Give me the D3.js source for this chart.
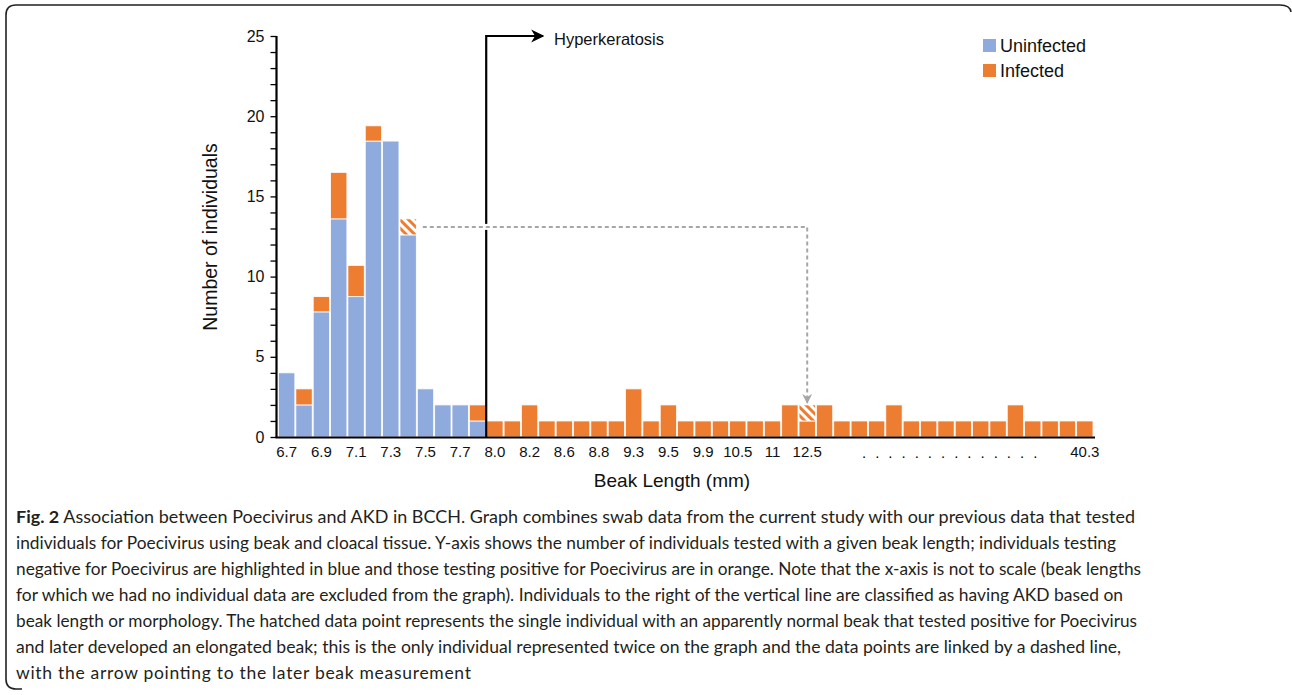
<!DOCTYPE html>
<html>
<head>
<meta charset="utf-8">
<script src="https://cdn.jsdelivr.net/npm/d3@7"></script>
<style>
  html, body { margin: 0; padding: 0; background: #fff; }
  svg { display: block; }
</style>
</head>
<body>
<svg id="chart" width="1292" height="695"></svg>
<script>
// ---------- data ----------
const tickLabels = ["6.7","","6.9","","7.1","","7.3","","7.5","","7.7","",
  "8.0","","8.2","","8.6","","8.8","","9.3","","9.5","","9.9","","10.5","","11","",
  "12.5","","","","","","","","","","","","","","","","40.3"];
const uninfected = [4,2,7.8,13.6,8.75,18.45,18.45,12.6,3,2,2,1,
  0,0,0,0,0,0,0,0,0,0,0,0,0,0,0,0,0,0,0,0,0,0,0,0,0,0,0,0,0,0,0,0,0,0,0];
const infected = [0,1,0.95,2.9,1.95,0.95,0,0,0,0,0,1,
  1,1,2,1,1,1,1,1,3,1,2,1,1,1,1,1,1,2,1,2,1,1,1,2,1,1,1,1,1,1,2,1,1,1,1];
const hatched = [0,0,0,0,0,0,0,1,0,0,0,0,
  0,0,0,0,0,0,0,0,0,0,0,0,0,0,0,0,0,0,1,0,0,0,0,0,0,0,0,0,0,0,0,0,0,0,0];
const yTicks = [0,5,10,15,20,25];
const seriesNames = ["Uninfected","Infected"];
const hyperStartIndex = 12;     // first hyperkeratosis category
const linkFrom = 7, linkTo = 30; // hatched individual measured twice
const captionLines = [
  ["Fig. 2", " Association between Poecivirus and AKD in BCCH. Graph combines swab data from the current study with our previous data that tested"],
  ["", "individuals for Poecivirus using beak and cloacal tissue. Y-axis shows the number of individuals tested with a given beak length; individuals testing"],
  ["", "negative for Poecivirus are highlighted in blue and those testing positive for Poecivirus are in orange. Note that the x-axis is not to scale (beak lengths"],
  ["", "for which we had no individual data are excluded from the graph). Individuals to the right of the vertical line are classified as having AKD based on"],
  ["", "beak length or morphology. The hatched data point represents the single individual with an apparently normal beak that tested positive for Poecivirus"],
  ["", "and later developed an elongated beak; this is the only individual represented twice on the graph and the data points are linked by a dashed line,"],
  ["", "with the arrow pointing to the later beak measurement"]
];
const captionWidths = [1119, 1100, 1125, 1107, 1121, 1105, 455];

// ---------- setup ----------
const BLUE = "#8faadc", ORANGE = "#ed7d31";
const svg = d3.select("#chart");
const FONT = "'Liberation Sans', Arial, Helvetica, sans-serif";
const CAPFONT = "Lato, 'Open Sans', sans-serif";

const defs = svg.append("defs");
const pat = defs.append("pattern").attr("id","hatch").attr("patternUnits","userSpaceOnUse")
  .attr("width",6).attr("height",6).attr("patternTransform","rotate(-45)");
pat.append("rect").attr("width",6).attr("height",6).attr("fill","#fff");
pat.append("rect").attr("width",3).attr("height",6).attr("fill",ORANGE);

const x = d3.scaleBand().domain(d3.range(tickLabels.length)).range([278, 1093.5]).padding(0);
const y = d3.scaleLinear().domain([0,25]).range([437, 36]);

// frame
svg.append("path")
  .attr("d","M 22 689 H 16 Q 6 689 6 679 V 15 Q 6 5 16 5 H 1280 Q 1290 5 1291 12")
  .attr("fill","none").attr("stroke","#222").attr("stroke-width",1.6);

// bars
const data = tickLabels.map((t,i)=>({i, u: uninfected[i], inf: infected[i], h: hatched[i]}));
const g = svg.append("g");
const bw = x.bandwidth();
data.forEach(d => {
  const x0 = x(d.i) + 0.5, w = bw - 1;
  let base = 0;
  const segs = [[d.u, BLUE], [d.inf, ORANGE], [d.h, "url(#hatch)"]];
  segs.forEach(([v, col]) => {
    if (v > 0) {
      g.append("rect").attr("x", x0).attr("width", w)
        .attr("y", y(base+v)).attr("height", y(base) - y(base+v))
        .attr("fill", col).attr("stroke","#fff").attr("stroke-width",0.8);
      base += v;
    }
  });
});

// y axis
const yAxis = d3.axisLeft(y).tickValues(d3.range(0,26,1)).tickSize(6)
  .tickFormat(v => yTicks.includes(v) ? v : "");
const ya = svg.append("g").attr("transform","translate(276.5,0)").call(yAxis);
ya.select(".domain").attr("stroke","#000").attr("stroke-width",2.2).attr("d","M0,36V438");
ya.selectAll(".tick line").attr("stroke","#000").attr("stroke-width",1.3);
ya.selectAll(".tick text").attr("font-family",FONT).attr("font-size",16).attr("fill","#111").attr("x",-12);

// x axis
const xAxis = d3.axisBottom(x).tickSize(0).tickFormat(i => tickLabels[i]);
const xa = svg.append("g").attr("transform","translate(0,437.5)").call(xAxis);
xa.select(".domain").attr("stroke","#000").attr("stroke-width",2.2).attr("d","M275.5,0H1095");
xa.selectAll(".tick text").attr("font-family",FONT).attr("font-size",15).attr("fill","#111").attr("dy","1.1em");

// dots between labels
svg.append("text").attr("x", 862).attr("y", 458).attr("font-family",FONT).attr("font-size",15)
  .attr("letter-spacing", "9px").text("..............");

// axis titles
svg.append("text").attr("x",672).attr("y",487).attr("text-anchor","middle")
  .attr("font-family",FONT).attr("font-size",19).attr("fill","#111").text("Beak Length (mm)");
svg.append("text").attr("transform","translate(217,237) rotate(-90)").attr("text-anchor","middle")
  .attr("font-family",FONT).attr("font-size",19.5).attr("fill","#111").text("Number of individuals");

// hyperkeratosis line + arrow
const vx = x(hyperStartIndex);
defs.append("marker").attr("id","arrowBlack").attr("viewBox","0 0 10 10").attr("refX",9).attr("refY",5)
  .attr("markerWidth",6).attr("markerHeight",6).attr("markerUnits","strokeWidth").attr("orient","auto")
  .append("path").attr("d","M0,0 L10,5 L0,10 L3,5 Z").attr("fill","#000");
svg.append("path").attr("d",`M${vx},437 V${y(25)} H543`)
  .attr("fill","none").attr("stroke","#000").attr("stroke-width",2.2).attr("marker-end","url(#arrowBlack)");
svg.append("text").attr("x",554).attr("y",45).attr("font-family",FONT).attr("font-size",16.5)
  .attr("fill","#111").text("Hyperkeratosis");

// dashed link
defs.append("marker").attr("id","arrowGray").attr("viewBox","0 0 10 10").attr("refX",9).attr("refY",5)
  .attr("markerWidth",5).attr("markerHeight",5).attr("markerUnits","strokeWidth").attr("orient","auto")
  .append("path").attr("d","M0,0 L10,5 L0,10 L3,5 Z").attr("fill","#a6a6a6");
const ly = y(uninfected[linkFrom] + infected[linkFrom] + hatched[linkFrom]/2);
const lx0 = x(linkFrom) + bw + 6;
const lx1 = x(linkTo) + bw/2;
const ltop = y(uninfected[linkTo] + infected[linkTo] + hatched[linkTo]) - 2;
svg.append("rect").attr("x", vx-2.5).attr("y", ly-3).attr("width",5).attr("height",6).attr("fill","#fff");
svg.append("path").attr("d",`M${lx0},${ly} H${lx1} V${ltop}`)
  .attr("fill","none").attr("stroke","#a6a6a6").attr("stroke-width",2)
  .attr("stroke-dasharray","4,3").attr("marker-end","url(#arrowGray)");

// legend
const leg = svg.append("g");
[[BLUE, 39], [ORANGE, 64]].forEach(([c, yy], k) => {
  leg.append("rect").attr("x",983).attr("y",yy).attr("width",13).attr("height",13).attr("fill",c);
  leg.append("text").attr("x",1000).attr("y",yy+13).attr("font-family",FONT).attr("font-size",18)
    .attr("fill","#111").text(seriesNames[k]);
});

// caption
captionLines.forEach((ln, k) => {
  const t = svg.append("text").attr("x",16).attr("y",523 + k*26)
    .attr("font-family",CAPFONT).attr("font-size",17.5).attr("fill","#231f20");
  if (captionWidths[k]) t.attr("textLength", captionWidths[k])
    .attr("lengthAdjust", k === captionLines.length - 1 ? "spacing" : "spacingAndGlyphs");
  if (ln[0]) t.append("tspan").attr("font-weight","bold").text(ln[0]);
  t.append("tspan").text(ln[1]);
});
</script>
</body>
</html>
